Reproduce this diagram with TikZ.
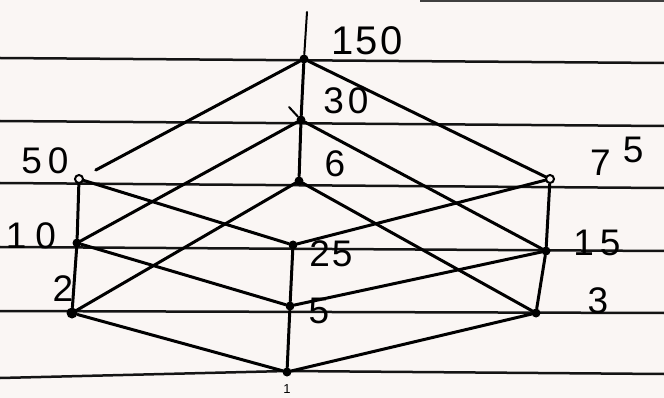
\documentclass[tikz,border=0pt]{standalone}
\usepackage{fontspec}
\setmainfont{Liberation Sans}
\definecolor{paper}{RGB}{250,246,244}
\definecolor{ruleink}{RGB}{20,20,20}
\begin{document}
\begin{tikzpicture}[x=1pt,y=-1pt,
  dot/.style={circle,fill=black,inner sep=0pt,minimum size=9pt},
  hollow/.style={circle,draw=black,line width=2pt,fill=paper,inner sep=0pt,minimum size=8pt},
  edge/.style={line width=3pt,line cap=round},
  ruled/.style={line width=2.5pt,draw=ruleink},
  lab/.style={font=\fontsize{37}{37}\selectfont,inner sep=0pt},
  biglab/.style={font=\fontsize{40}{40}\selectfont,inner sep=0pt}]
\fill[paper] (0,0) rectangle (664,398);
\useasboundingbox (0,0) rectangle (664,398);
\clip (0,0) rectangle (664,398);
% ruled paper lines
\draw[ruled,draw=black!75] (420,1) -- (664,1);
\draw[ruled] (0,58) -- (664,63);
\draw[ruled] (0,121) -- (664,126);
\draw[ruled] (0,183) -- (664,188);
\draw[ruled] (0,247) -- (664,251);
\draw[ruled] (0,311) -- (664,313);
\draw[ruled] (0,378) -- (287,371) -- (664,374);
% vertices
\node[dot] (n150) at (304,59) {};
\node[dot] (n30) at (301,120) {};
\node[dot] (n6) at (299,181) {};
\node[hollow] (n50) at (79,179) {};
\node[hollow] (n75) at (550,179) {};
\node[dot] (n10) at (77,243) {};
\node[dot] (n25) at (293,245) {};
\node[dot] (n15) at (546,251) {};
\node[dot,minimum size=11pt] (n2) at (72,313) {};
\node[dot] (n5) at (290,306) {};
\node[dot] (n3) at (536,313) {};
\node[dot] (n1) at (287,372) {};
\coordinate (top) at (307,12);
\coordinate (tick) at (289,107);
% edges
\draw[edge,line width=2pt] (n150) -- (top);
\draw[edge] (n150) -- (n30);
\draw[edge] (n30) -- (n6);
\draw[edge,line width=2pt] (n30) -- (tick);
\draw[edge,shorten >=14pt] (n150) -- (n50);
\draw[edge] (n150) -- (n75);
\draw[edge] (n30) -- (n10);
\draw[edge] (n30) -- (n15);
\draw[edge] (n6) -- (n2);
\draw[edge] (n6) -- (n3);
\draw[edge] (n50) -- (n10);
\draw[edge] (n10) -- (n2);
\draw[edge] (n50) -- (n25);
\draw[edge] (n75) -- (n25);
\draw[edge] (n75) -- (n15);
\draw[edge] (n15) -- (n3);
\draw[edge] (n10) -- (n5);
\draw[edge] (n25) -- (n5);
\draw[edge] (n15) -- (n5);
\draw[edge] (n2) -- (n1);
\draw[edge] (n5) -- (n1);
\draw[edge] (n3) -- (n1);
% labels
\node[biglab] (l150) at (367,41) {1\hspace{2pt}5\hspace{2pt}0};
\node[lab] (l30) at (346,101) {3\hspace{4pt}0};
\node[lab] (l6) at (335,164) {6};
\node[lab] (l50) at (45,161) {5\hspace{6pt}0};
\node[lab,anchor=base west] (l75) at (590,176) {7\hspace{12pt}\raisebox{13pt}{5}};
\node[lab] (l10) at (31,236) {1\hspace{9pt}0};
\node[lab] (l2) at (63,289) {2};
\node[lab] (l25) at (331,254) {2\hspace{2pt}5};
\node[lab] (l5) at (319,311) {5};
\node[lab] (l15) at (597,243) {1\hspace{6pt}5};
\node[lab] (l3) at (598,301) {3};
\node[font=\fontsize{13}{13}\selectfont,inner sep=0pt,anchor=south] (l1) at (287,394) {1};
\end{tikzpicture}
\end{document}
